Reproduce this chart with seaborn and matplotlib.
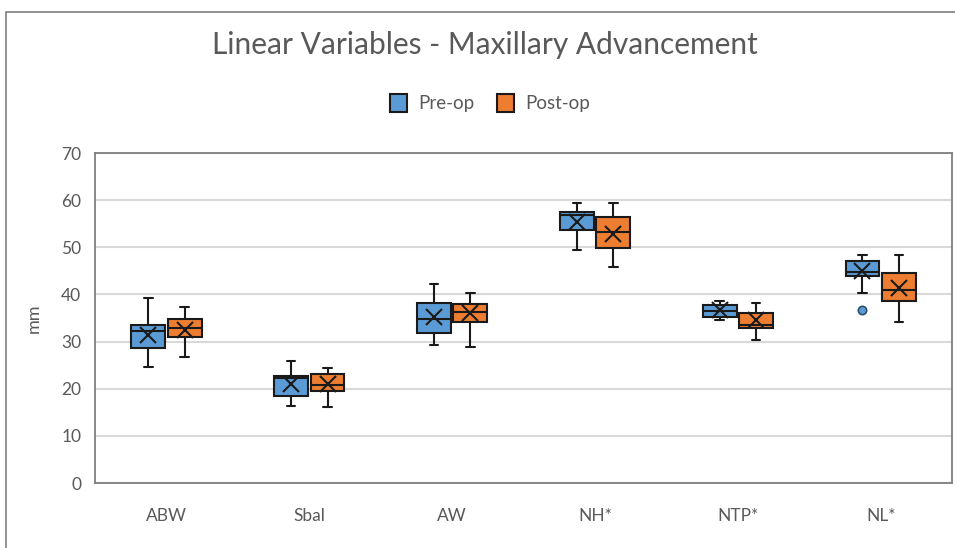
import numpy as np
import pandas as pd
import matplotlib.pyplot as plt
from matplotlib.patches import Rectangle
import seaborn as sns

# ─── Data ───────────────────────────────────────────────────────────────
categories = ["ABW", "Sbal", "AW", "NH*", "NTP*", "NL*"]
groups = ["Pre-op", "Post-op"]

# five-number summaries: whisker low, Q1, median, Q3, whisker high
pre_low = [24.7, 16.3, 29.2, 49.5, 34.5, 40.4]
pre_q1 = [28.7, 18.5, 31.8, 53.7, 35.2, 44.0]
pre_med = [32.3, 22.3, 34.8, 56.8, 36.5, 44.7]
pre_q3 = [33.5, 22.8, 38.1, 57.5, 37.7, 47.0]
pre_high = [39.3, 25.9, 42.2, 59.5, 38.7, 48.3]
pre_mean = [31.5, 20.9, 35.2, 55.4, 36.6, 44.9]

post_low = [26.7, 16.1, 28.9, 45.8, 30.3, 34.2]
post_q1 = [31.0, 19.5, 34.2, 49.8, 32.9, 38.6]
post_med = [32.9, 20.7, 36.2, 53.3, 33.6, 41.0]
post_q3 = [34.7, 23.1, 38.0, 56.4, 36.0, 44.5]
post_high = [37.3, 24.4, 40.2, 59.4, 38.1, 48.3]
post_mean = [32.4, 20.9, 36.0, 52.9, 34.5, 41.4]

outlier_cat = ["NL*"]
outlier_group = ["Pre-op"]
outlier_val = [36.6]

BLUE = "#5B9BD5"
ORANGE = "#ED7D31"
GREY = "#595959"

rows = []
for i, cat in enumerate(categories):
    for g, stats in (("Pre-op", (pre_low, pre_q1, pre_med, pre_q3, pre_high)),
                     ("Post-op", (post_low, post_q1, post_med, post_q3, post_high))):
        for s in stats:
            rows.append({"cat": cat, "group": g, "mm": s[i]})
df = pd.DataFrame(rows)

means = pd.DataFrame({
    "cat": categories * 2,
    "group": ["Pre-op"] * 6 + ["Post-op"] * 6,
    "mm": pre_mean + post_mean,
})
outliers = pd.DataFrame({"cat": outlier_cat, "group": outlier_group, "mm": outlier_val})

# ─── Plot ───────────────────────────────────────────────────────────────
sns.set_style("white")
plt.rcParams["font.family"] = ["Lato", "DejaVu Sans"]

fig = plt.figure(figsize=(9.55, 5.48), dpi=100)
ax = fig.add_axes([0.0995, 0.1186, 0.8975, 0.6022])

sns.boxplot(data=df, x="cat", y="mm", hue="group", order=categories,
            hue_order=groups, palette=[BLUE, ORANGE], width=0.51, gap=0.07,
            whis=np.inf, showfliers=False, linecolor="#1a1a1a", linewidth=1.5,
            saturation=1, capwidths=0.06, ax=ax)

sns.pointplot(data=means, x="cat", y="mm", hue="group", order=categories,
              hue_order=groups, dodge=0.255, linestyle="none", marker="x",
              markersize=12, markeredgewidth=1.5, palette=["#1a1a1a", "#1a1a1a"],
              errorbar=None, legend=False, ax=ax)

sns.pointplot(data=outliers, x="cat", y="mm", hue="group", order=categories,
              hue_order=groups, dodge=0.255, linestyle="none", marker="o",
              markersize=6, markeredgewidth=1.2, markeredgecolor="#2f4f6f",
              palette=[BLUE, ORANGE], errorbar=None, legend=False, ax=ax)

ax.set_ylim(0, 70)
ax.set_xlim(-0.5, 5.5)
ax.set_yticks(range(0, 71, 10))
ax.yaxis.grid(True, color="#d9d9d9", linewidth=1.5)
ax.set_axisbelow(True)
for sp in ax.spines.values():
    sp.set_color("#7f7f7f")
    sp.set_linewidth(1.3)
ax.tick_params(axis="both", length=0, labelsize=12.5, labelcolor=GREY)
ax.tick_params(axis="x", pad=18)
ax.tick_params(axis="y", pad=10)
ax.set_xlabel("")
ax.set_ylabel("mm", fontsize=13, color=GREY, labelpad=14)

sns.move_legend(ax, "center", bbox_to_anchor=(0.513, 0.812),
                bbox_transform=fig.transFigure, ncol=2, frameon=False,
                title=None, fontsize=13.5, handlelength=0.9, handleheight=1.1,
                columnspacing=1.2, handletextpad=0.6)
for t in ax.get_legend().get_texts():
    t.set_color(GREY)

fig.text(0.508, 0.918, "Linear Variables - Maxillary Advancement",
         ha="center", va="center", fontsize=21.5, color=GREY)

# outer chart frame
fig.patches.append(Rectangle((0.006, -0.1), 1.2, 1.1 - 12 / 548,
                             transform=fig.transFigure, fill=False,
                             edgecolor="#7f7f7f", linewidth=1.2))

fig.savefig("out.png", dpi=100)
